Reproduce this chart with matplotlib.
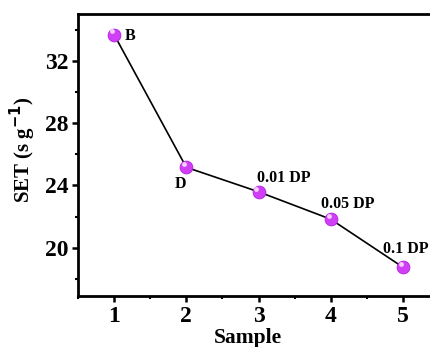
import matplotlib.pyplot as plt
from matplotlib.ticker import MultipleLocator

# data
samples = [1, 2, 3, 4, 5]
set_vals = [33.68, 25.16, 23.59, 21.83, 18.75]
labels = ["B", "D", "0.01 DP", "0.05 DP", "0.1 DP"]
# label offsets in points (dx, dy) and alignment
offsets = [(8, -1, "left"), (-4, -12, "center"), (18, 10, "center"), (12, 11, "center"), (2, 13, "center")]

plt.rcParams["font.family"] = ["Liberation Serif", "DejaVu Serif"]
plt.rcParams["font.weight"] = "bold"

fig = plt.figure(figsize=(4.31, 3.47), dpi=100)
ax = fig.add_axes([78 / 431, 1 - 296 / 347, 361 / 431, 282 / 347])

ax.plot(samples, set_vals, color="black", lw=1.2, zorder=2)
ax.scatter(samples, set_vals, s=85, color="#d03ef5", edgecolors="#b420e0", linewidths=0.6, zorder=3)
# small highlight so the dots look like spheres
ax.scatter([x - 0.03 for x in samples], [y + 0.2 for y in set_vals], s=12, color="#f4d0ff", lw=0, zorder=4)

for x, y, t, (dx, dy, ha) in zip(samples, set_vals, labels, offsets):
    ax.annotate(t, (x, y), xytext=(dx, dy), textcoords="offset points",
                ha=ha, va="center", fontsize=11.5, fontweight="bold")

ax.set_xlim(0.5, 5.5)
ax.set_ylim(16.9, 35.0)
ax.xaxis.set_major_locator(MultipleLocator(1))
ax.xaxis.set_minor_locator(MultipleLocator(0.5))
ax.yaxis.set_major_locator(MultipleLocator(4))
ax.yaxis.set_minor_locator(MultipleLocator(2))
ax.tick_params(which="major", direction="out", length=4, width=1.8, labelsize=17, pad=3)
ax.tick_params(which="minor", direction="out", length=2.5, width=1.5)
ax.tick_params(top=False, right=False)
for s in ax.spines.values():
    s.set_linewidth(2)

ax.set_ylabel("SET (s g$^{\\mathbf{-1}}$)", fontsize=15, fontweight="bold", labelpad=4)
ax.set_xlabel("Sample", fontsize=15.5, fontweight="bold", labelpad=0)
ax.xaxis.set_label_coords((248 - 78) / 361, -0.112)
ax.yaxis.set_label_coords(-0.112, 0.52)

fig.savefig("out.png", dpi=100)
